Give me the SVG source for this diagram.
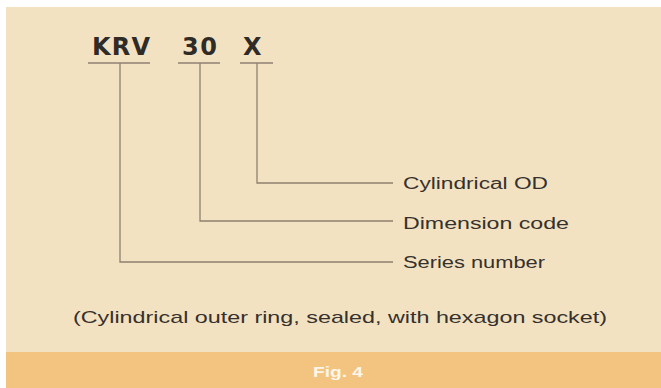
<svg xmlns="http://www.w3.org/2000/svg" width="661" height="388" viewBox="0 0 661 388">
  <style>
    .code { font-family: "DejaVu Sans", "Liberation Sans", sans-serif; font-weight: bold; font-size: 24px; fill: #2f2b27; }
    .lbl { font-family: "Liberation Sans", Arial, sans-serif; font-size: 16px; fill: #36312c; }
    .cap { font-family: "Liberation Sans", Arial, sans-serif; font-size: 17px; fill: #36312c; }
    .fig { font-family: "Liberation Sans", Arial, sans-serif; font-size: 14px; font-weight: bold; fill: #fdf6ea; }
    .ln { stroke: #8e8070; stroke-width: 1.3; fill: none; }
    .ul { stroke: #8e8070; stroke-width: 1.6; fill: none; }
  </style>
  <rect x="0" y="0" width="661" height="388" fill="#ffffff"/>
  <rect x="6" y="7" width="655" height="346" fill="#f3e2c2"/>
  <rect x="6" y="352" width="655" height="36" fill="#f3c47f"/>

  <g id="code-krv">
    <text class="code" x="92" y="55" textLength="58" lengthAdjust="spacing">KRV</text>
    <line class="ul" x1="88" y1="63" x2="150" y2="63"/>
  </g>
  <g id="code-30">
    <text class="code" x="182" y="55" textLength="35" lengthAdjust="spacing">30</text>
    <line class="ul" x1="178" y1="63" x2="220" y2="63"/>
  </g>
  <g id="code-x">
    <text class="code" x="243" y="55">X</text>
    <line class="ul" x1="240" y1="63" x2="273" y2="63"/>
  </g>

  <g id="label-od">
    <text class="lbl" x="403" y="189" textLength="145" lengthAdjust="spacingAndGlyphs">Cylindrical OD</text>
  </g>
  <g id="label-dim">
    <text class="lbl" x="403" y="229" textLength="166" lengthAdjust="spacingAndGlyphs">Dimension code</text>
  </g>
  <g id="label-series">
    <text class="lbl" x="403" y="268" textLength="142" lengthAdjust="spacingAndGlyphs">Series number</text>
  </g>

  <g id="connectors">
    <polyline class="ln" points="257,63 257,183 393,183"/>
    <polyline class="ln" points="200,63 200,221 393,221"/>
    <polyline class="ln" points="120,63 120,262 393,262"/>
  </g>

  <g id="caption">
    <text class="cap" x="73" y="323" textLength="534" lengthAdjust="spacingAndGlyphs">(Cylindrical outer ring, sealed, with hexagon socket)</text>
  </g>
  <g id="fig-label">
    <text class="fig" x="313" y="377" textLength="50" lengthAdjust="spacingAndGlyphs">Fig. 4</text>
  </g>
</svg>
